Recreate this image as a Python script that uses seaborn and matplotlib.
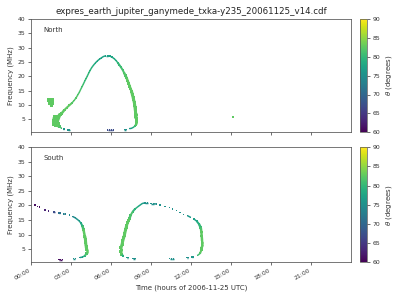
import matplotlib
matplotlib.use("Agg")
import matplotlib.pyplot as plt
import seaborn as sns
import pandas as pd
from matplotlib.colors import Normalize
from matplotlib.cm import ScalarMappable

title = "expres_earth_jupiter_ganymede_txka-y235_20061125_v14.cdf"
hour_ticks = [0, 3, 6, 9, 12, 15, 18, 21]
hour_labels = ["00:00", "03:00", "06:00", "09:00", "12:00", "15:00", "18:00", "21:00"]
freq_ticks = [5, 10, 15, 20, 25, 30, 35, 40]
theta_ticks = [60, 65, 70, 75, 80, 85, 90]

# North hemisphere emission: time (h), frequency (MHz), theta (deg), cell width (px), stroke id
north_time = [
    1.38, 1.55, 1.44, 1.57, 1.52,
    1.80, 1.74, 1.93, 2.05, 2.18, 1.88, 2.06, 1.74, 2.13, 2.30,
    2.42, 2.50,
    2.78, 2.90,
    2.30, 2.50, 2.68, 2.88, 3.05, 3.23, 3.38, 3.50, 3.63, 3.73, 3.83, 3.93, 4.03, 4.13,
    4.23, 4.33, 4.43, 4.55, 4.68, 4.83, 4.98, 5.13, 5.28, 5.43, 5.60, 5.78, 5.93, 6.08,
    6.23, 6.38, 6.50, 6.63, 6.75, 6.88, 6.98, 7.08, 7.18, 7.25, 7.33, 7.40, 7.48, 7.55,
    7.60, 7.65, 7.70, 7.75, 7.78, 7.80, 7.83, 7.85, 7.85, 7.88, 7.88, 7.88, 7.80, 7.68,
    7.53, 7.38,
    7.00, 7.12,
    5.75, 5.90, 6.05, 6.18,
    15.13,
]
north_freq = [
    11.8, 11.8, 10.7, 10.6, 9.7,
    5.66, 4.25, 4.84, 6.02, 6.84, 3.07, 3.54, 3.20, 2.48, 1.90,
    1.65, 1.65,
    1.30, 1.30,
    7.08, 8.26, 9.09, 9.91, 10.62, 11.56, 12.51, 13.45, 14.51, 15.46, 16.40, 17.35, 18.29, 19.23,
    20.18, 21.12, 22.06, 23.01, 23.83, 24.66, 25.37, 25.96, 26.43, 26.90, 27.14, 27.14, 27.02, 26.67,
    26.19, 25.49, 24.78, 23.95, 23.13, 22.18, 21.24, 20.30, 19.35, 18.41, 17.46, 16.52, 15.58, 14.63,
    13.69, 12.74, 11.80, 10.86, 9.91, 8.97, 8.02, 7.08, 6.14, 5.19, 4.25, 3.30, 2.71, 2.24,
    1.89, 1.77,
    1.42, 1.42,
    1.30, 1.30, 1.30, 1.30,
    6.0,
]
north_theta = [
    82.5, 82.5, 82.5, 82.5, 82.5,
    82.5, 82.5, 82.5, 82.5, 82.5, 82.5, 82.5, 82.5, 81.5, 79,
    76, 76,
    75, 75,
    82.5, 82.5, 82.5, 82.5, 82, 82, 82, 81.5, 81.5, 81, 81, 80.5, 80.5, 80,
    80, 79.5, 79.5, 79, 78.5, 78, 78, 77.5, 77.5, 77, 77, 77, 77.5, 78,
    78.5, 79, 80, 80.5, 81, 81.5, 82, 82, 82.5, 82.5, 82.5, 82.5, 82.5, 82.5,
    82.5, 82.5, 82.5, 82.5, 82.5, 82.5, 82.5, 82.5, 82.5, 82.5, 82.5, 82, 80, 78,
    76.5, 76,
    75, 75,
    67, 67, 67, 67,
    82.5,
]
north_width = [
    4, 4, 4, 4, 3,
    4.5, 4.5, 4.5, 3.5, 3, 4, 3.5, 3.5, 2.5, 1.5,
    1.5, 1.5,
    1.5, 1.5,
    2.5, 2.5, 2, 2, 2, 1.5, 1.5, 1.5, 1.5, 1.5, 1.5, 1.5, 1.5, 1.5,
    1.5, 1.5, 1.5, 1.5, 1.5, 1.5, 1.5, 1.5, 1.5, 1.5, 1.5, 1.5, 1.5, 1.5,
    1.5, 1.5, 2, 2, 2, 2, 2.5, 2.5, 2.5, 2.5, 2.5, 2.5, 2.5, 3,
    3, 3, 3, 3, 3, 3, 3, 3, 3, 3, 3, 2.5, 2, 1.5,
    1.5, 1.5,
    1.5, 1.5,
    1.5, 1.5, 1.5, 1.5,
    2,
]
north_stroke = (
    [0] * 5 + [1] * 10 + [2] * 2 + [3] * 2 + [4] * 58 + [5] * 2 + [6] * 4 + [7] * 1
)

# South hemisphere emission
south_time = [
    0.30, 0.48, 0.63, 1.05, 1.30,
    1.68, 1.78, 2.08, 2.18, 2.45, 2.58, 2.88,
    3.13, 3.30, 3.48, 3.63, 3.75, 3.85, 3.93, 3.98, 4.03, 4.08, 4.10, 4.13, 4.18, 4.18,
    4.05, 3.88, 3.68,
    3.18, 3.33,
    2.10, 2.20, 2.35,
    7.20, 7.30,
    6.93, 6.80, 6.75, 6.75, 6.83, 6.88, 6.95, 7.00, 7.03, 7.10, 7.13, 7.18, 7.25, 7.33,
    7.38, 7.48, 7.63, 7.80, 8.05, 8.35, 8.55, 8.75,
    9.00, 9.20, 9.40,
    9.68, 10.05, 10.38, 10.63, 10.93, 11.18, 11.43,
    11.73, 11.98,
    12.23, 12.43, 12.60, 12.73, 12.76, 12.78, 12.80, 12.82, 12.83, 12.83, 12.83, 12.80,
    12.78, 12.68, 12.48,
    12.15, 12.05,
    11.78, 11.68,
    10.70, 10.55, 10.40,
    7.80, 7.65,
]
south_freq = [
    20.2, 19.7, 19.4, 18.4, 18.1,
    17.7, 17.7, 17.4, 17.4, 17.1, 17.0, 16.7,
    16.2, 15.8, 15.2, 14.6, 13.9, 13.0, 11.8, 10.7, 9.5, 8.4, 7.2, 6.0, 4.9, 3.5,
    2.8, 2.3, 2.1,
    1.76, 1.76,
    1.41, 1.41, 1.41,
    2.1, 2.1,
    2.6, 3.15, 4.3, 5.5, 6.6, 7.8, 8.9, 9.6, 10.4, 11.8, 12.4, 13.0, 14.1, 14.8,
    15.5, 16.7, 17.9, 18.8, 19.7, 20.7, 20.9, 20.9,
    20.6, 20.6, 20.5,
    20.2, 19.7, 19.3, 18.8, 18.2, 17.6, 16.9,
    16.5, 15.9,
    15.3, 14.6, 13.6, 12.4, 11.6, 10.9, 9.5, 8.6, 7.8, 6.9, 6.0, 5.3,
    4.7, 3.5, 2.8,
    2.3, 2.3,
    2.1, 2.1,
    1.76, 1.76, 1.76,
    1.76, 1.76,
]
south_theta = [
    61, 61, 61, 63, 63,
    67, 67, 71, 71, 73, 73, 74,
    74, 75, 76, 77, 78.5, 81, 82.5, 82.5, 82.5, 82.5, 82.5, 82.5, 82.5, 81.5,
    79, 76.5, 75,
    75, 75,
    61, 61, 61,
    76, 76,
    79, 82.5, 82.5, 82.5, 82.5, 82.5, 82.5, 82.5, 82.5, 82.5, 82.5, 82.5, 82.5, 82.5,
    81.5, 81.5, 80, 79, 77.5, 76, 75, 75,
    75, 75, 75,
    75, 75, 75, 75, 75, 75, 75,
    76, 76,
    77, 78.5, 80, 81.5, 82.5, 82.5, 82.5, 82.5, 82.5, 82.5, 82.5, 82.5,
    82.5, 81, 79,
    76, 76,
    75, 75,
    75, 75, 75,
    75, 75,
]
south_width = [
    1.5, 1.5, 1.5, 1.5, 1.5,
    1.5, 1.5, 1.5, 1.5, 1.5, 1.5, 1.5,
    1.5, 1.5, 1.5, 1.5, 2, 2.5, 2.5, 2.5, 3, 3, 3, 3, 3, 2.5,
    2, 1.5, 1.5,
    1.5, 1.5,
    1.5, 1.5, 1.5,
    1.5, 1.5,
    2, 2.5, 3, 3, 3, 3, 3, 3, 3, 3, 3, 3, 2.5, 2.5,
    2.5, 2.5, 2, 2, 1.5, 1.5, 1.5, 1.5,
    1.5, 1.5, 1.5,
    1.5, 1.5, 1.5, 1.5, 1.5, 1.5, 1.5,
    1.5, 1.5,
    1.5, 2, 2.5, 2.5, 2.5, 2.5, 2.5, 2.5, 2.5, 2.5, 2.5, 2.5,
    2.5, 2, 1.5,
    1.5, 1.5,
    1.5, 1.5,
    1.5, 1.5, 1.5,
    1.5, 1.5,
]
south_stroke = (
    [0, 1, 2, 3, 4] + [5] * 2 + [6] * 2 + [7] * 2 + [8]
    + [9] * 17 + [10] * 2 + [11] * 3 + [12] * 2 + [13] * 22 + [14] * 3
    + [15, 16, 17, 18, 19, 20, 21] + [22] * 2 + [23] * 15 + [24] * 2 + [25] * 2
    + [26] * 3 + [27] * 2
)

sns.set_style("ticks")
plt.rcParams["font.family"] = ["DejaVu Sans"]

DPI = 62.5
fig = plt.figure(figsize=(6.4, 4.8), dpi=DPI)
ax1 = fig.add_axes([0.0775, 0.559, 0.8, 0.378])
ax2 = fig.add_axes([0.0775, 0.126, 0.8, 0.383])
cax1 = fig.add_axes([0.9, 0.559, 0.0175, 0.378])
cax2 = fig.add_axes([0.9, 0.126, 0.0175, 0.383])

norm = Normalize(60, 90)
px2pt = 72.0 / DPI


def draw(ax, t, f, th, w, st, label):
    df = pd.DataFrame({"time": t, "freq": f, "theta": th, "w": w, "stroke": st})
    # connect consecutive cells of the same stroke with short segments
    rows = []
    seg = 0
    for i in range(len(df) - 1):
        a, b = df.iloc[i], df.iloc[i + 1]
        if a["stroke"] != b["stroke"]:
            continue
        for p in (a, b):
            rows.append({"time": p["time"], "freq": p["freq"], "theta": a["theta"],
                         "w": min(a["w"], b["w"]), "seg": seg})
        seg += 1
    segs = pd.DataFrame(rows)
    lw = {v: v * px2pt for v in sorted(set(segs["w"]))}
    sns.lineplot(data=segs, x="time", y="freq", hue="theta", palette="viridis",
                 hue_norm=(60, 90), size="w", sizes=lw, units="seg", estimator=None,
                 sort=False, legend=False, ax=ax, solid_capstyle="butt")
    sizes = {v: (v * px2pt) ** 2 for v in sorted(set(w))}
    sns.scatterplot(data=df, x="time", y="freq", hue="theta", palette="viridis",
                    hue_norm=(60, 90), size="w", sizes=sizes, marker="s",
                    linewidth=0, legend=False, ax=ax)
    ax.set_xlim(0, 24)
    ax.set_ylim(0.5, 40)
    ax.set_yticks(freq_ticks)
    ax.set_xticks(hour_ticks)
    ax.set_ylabel("Frequency (MHz)", fontsize=8, color="#333333")
    ax.tick_params(labelsize=7, colors="#333333", length=3, width=0.8)
    ax.text(0.04, 0.905, label, transform=ax.transAxes, fontsize=8,
            va="center", ha="left", color="#333333")
    for s in ax.spines.values():
        s.set_color("#555555")
        s.set_linewidth(0.9)


draw(ax1, north_time, north_freq, north_theta, north_width, north_stroke, "North")
draw(ax2, south_time, south_freq, south_theta, south_width, south_stroke, "South")

ax1.set_xticklabels([])
ax1.set_xlabel("")
ax2.set_xticklabels(hour_labels, rotation=30, ha="right")
ax2.set_xlabel("Time (hours of 2006-11-25 UTC)", fontsize=8, color="#333333")
ax1.set_title(title, fontsize=10, color="#222222")

for cax in (cax1, cax2):
    cb = fig.colorbar(ScalarMappable(norm=norm, cmap="viridis"), cax=cax, ticks=theta_ticks)
    cb.set_label(r"$\theta$ (degrees)", fontsize=8, color="#333333")
    cb.ax.tick_params(labelsize=7, colors="#333333", length=3, width=0.8)
    cb.outline.set_edgecolor("#555555")
    cb.outline.set_linewidth(0.8)

fig.savefig("out.png", dpi=DPI)
